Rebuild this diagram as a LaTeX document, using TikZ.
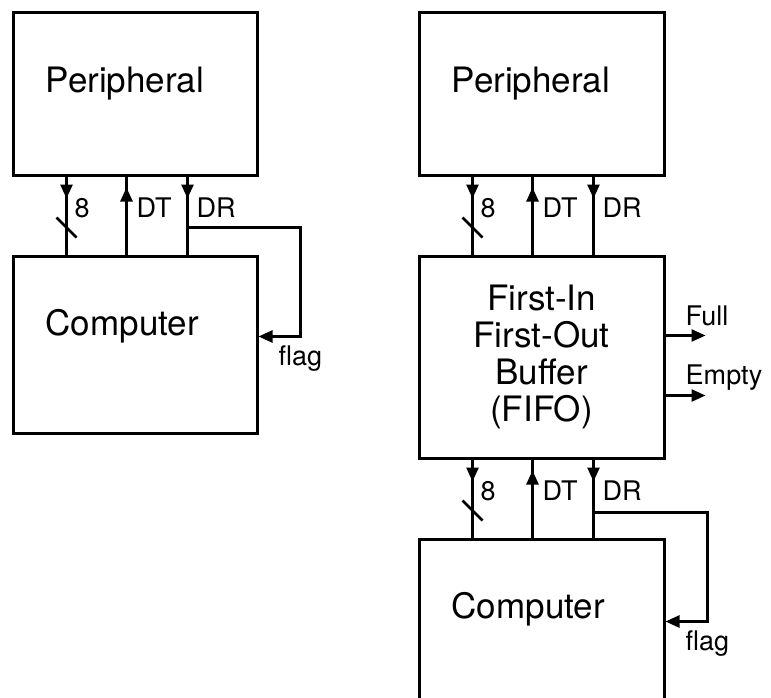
\documentclass[tikz,border=0pt]{standalone}
\usepackage{fontspec}
\setmainfont{TeX Gyre Heros}
\usetikzlibrary{arrows.meta,positioning,calc}
\tikzset{
  Bbox/.style={draw, line width=3pt, inner sep=0pt},
  Btxt/.style={font=\fontsize{35}{37}\selectfont, anchor=base west, inner sep=0pt},
  Slbl/.style={font=\fontsize{27}{28}\selectfont, anchor=base west, inner sep=0pt},
  Wire/.style={line width=2.6pt},
  Narr/.style={-{Triangle[length=14pt,width=12pt]}, line width=2.6pt}
}

\begin{document}
\begin{tikzpicture}[x=1pt,y=-1pt]
  \useasboundingbox (0,0) rectangle (771,698);
  \clip (0,0) rectangle (771,698);

  % left system
  \node[Bbox, minimum width=244pt, minimum height=162pt] (per1) at (135,94) {};
  \node[Bbox, minimum width=244pt, minimum height=177pt] (comp1) at (135,344.5) {};
  \node[Btxt] (per1t) at ([shift={(34,81)}]per1.north west) {Peripheral};
  \node[Btxt] (comp1t) at ([shift={(34,81)}]comp1.north west) {Computer};

  % right system
  \node[Bbox, minimum width=245pt, minimum height=202pt, align=center,
        font=\fontsize{35}{37}\selectfont] (fifo) at (541.5,357)
    {First-In\\First-Out\\Buffer\\(FIFO)};
  \node[Bbox, minimum width=245pt, minimum height=162pt] (per2) at (541.5,94) {};
  \node[Bbox, minimum width=245pt, minimum height=181pt] (comp2) at (541.5,629.5) {};
  \node[Btxt] (per2t) at ([shift={(34,81)}]per2.north west) {Peripheral};
  \node[Btxt] (comp2t) at ([shift={(34,81)}]comp2.north west) {Computer};

  % data, DT and DR lines
  \foreach \up/\dn in {per1/comp1, per2/fifo, fifo/comp2} {
    \draw[Wire] ([xshift=55pt]\up.south west) -- ([xshift=55pt]\dn.north west);
    \draw[Narr] ([xshift=55pt]\up.south west) -- ++(0,22);
    \draw[Wire] ([shift={(45,41)}]\up.south west) -- ++(20,20);
    \node[Slbl] (\up-d8) at ([shift={(63,41)}]\up.south west) {8};
    \draw[Wire] ([xshift=115pt]\dn.north west) -- ([xshift=115pt]\up.south west);
    \draw[Narr] ([xshift=115pt]\dn.north west) -- ([shift={(115,11)}]\up.south west);
    \node[Slbl] (\up-dt) at ([shift={(125,41)}]\up.south west) {DT};
    \draw[Wire] ([xshift=176pt]\up.south west) -- ([xshift=176pt]\dn.north west);
    \draw[Narr] ([xshift=176pt]\up.south west) -- ++(0,22);
    \node[Slbl] (\up-dr) at ([shift={(185,41)}]\up.south west) {DR};
  }

  % DR fed back as flag
  \draw[Narr] ([shift={(176,51)}]per1.south west) -| ([shift={(42,82)}]comp1.north east)
    -- ([yshift=-82pt]comp1.north east);
  \node[Slbl, anchor=north west] (flag1) at ([shift={(20,91)}]comp1.north east) {flag};
  \draw[Narr] ([shift={(176,53)}]fifo.south west) -| ([shift={(42,84)}]comp2.north east)
    -- ([yshift=-84pt]comp2.north east);
  \node[Slbl, anchor=north west] (flag2) at ([shift={(20,93)}]comp2.north east) {flag};

  % buffer status
  \draw[Narr] ([yshift=-81pt]fifo.north east) -- ++(40,0);
  \node[Slbl] (full) at ([shift={(20,71)}]fifo.north east) {Full};
  \draw[Narr] ([yshift=-141pt]fifo.north east) -- ++(40,0);
  \node[Slbl] (empty) at ([shift={(20,130)}]fifo.north east) {Empty};
\end{tikzpicture}
\end{document}
